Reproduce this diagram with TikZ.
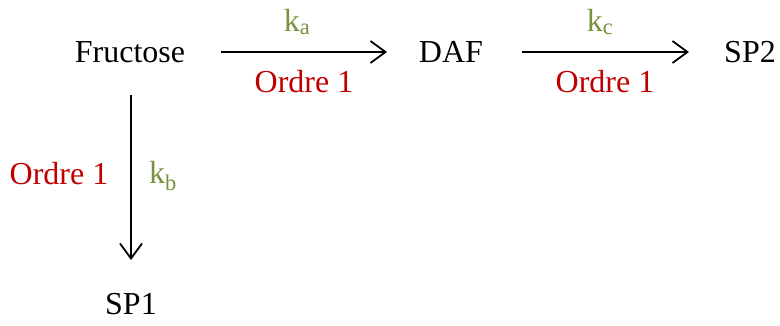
\documentclass[tikz,border=0pt]{standalone}
\usepackage{fontspec}
\setmainfont{Liberation Serif}
\usetikzlibrary{arrows.meta}
\definecolor{ordred}{HTML}{C00000}
\definecolor{kgreen}{HTML}{77933C}
\begin{document}
\begin{tikzpicture}[x=1pt,y=-1pt,
  every node/.style={font=\fontsize{32}{38}\selectfont, inner sep=0pt},
  species/.style={},
  order/.style={text=ordred},
  rate/.style={text=kgreen},
  react/.style={line width=1.8pt, -{Straight Barb[length=15pt,width=22pt,line width=1.8pt]}}]
\useasboundingbox (0,0) rectangle (780,325);
\node[species] (fru) at (130,52) {Fructose};
\node[species] (daf) at (451,52) {DAF};
\node[species] (sp2) at (750,52) {SP2};
\node[species] (sp1) at (131,304) {SP1};
\coordinate (a1) at (221,52); \coordinate (a2) at (387,52);
\coordinate (c1) at (522,52); \coordinate (c2) at (689,52);
\coordinate (b1) at (131,95); \coordinate (b2) at (131,260);
\draw[react] (a1) -- (a2);
\draw[react] (c1) -- (c2);
\draw[react] (b1) -- (b2);
\node[rate] (ka) at (297,22) {k\textsubscript{a}};
\node[order] (oa) at (304,82) {Ordre 1};
\node[rate] (kc) at (600,22) {k\textsubscript{c}};
\node[order] (oc) at (605,82) {Ordre 1};
\node[order] (ob) at (59,174) {Ordre 1};
\node[rate] (kb) at (163,176) {k\textsubscript{b}};
\end{tikzpicture}
\end{document}
